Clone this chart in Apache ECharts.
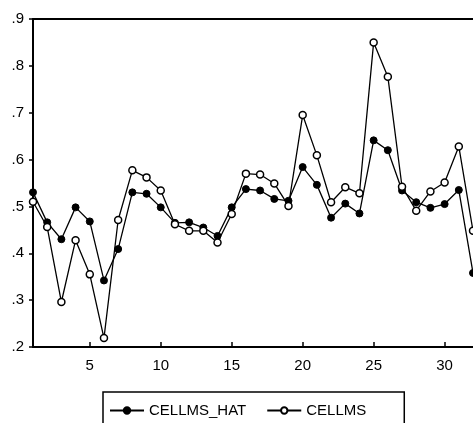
<!DOCTYPE html>
<html>
<head>
<meta charset="utf-8">
<script src="https://cdn.jsdelivr.net/npm/echarts@6/dist/echarts.min.js"></script>
<style>
html,body{margin:0;padding:0;background:#fff;}
#c{width:473px;height:423px;}
</style>
</head>
<body>
<div id="c"></div>
<script>
var obs = [1,2,3,4,5,6,7,8,9,10,11,12,13,14,15,16,17,18,19,20,21,22,23,24,25,26,27,28,29,30,31,32];
var cellmsHat = [0.530,0.466,0.430,0.498,0.468,0.342,0.409,0.530,0.527,0.498,0.465,0.466,0.455,0.437,0.498,0.537,0.534,0.516,0.512,0.584,0.546,0.476,0.506,0.485,0.641,0.620,0.534,0.509,0.497,0.505,0.535,0.358];
var cellms = [0.510,0.456,0.296,0.428,0.355,0.219,0.471,0.577,0.562,0.534,0.462,0.448,0.448,0.423,0.484,0.570,0.568,0.549,0.501,0.695,0.609,0.509,0.541,0.528,0.850,0.777,0.542,0.491,0.532,0.551,0.628,0.448];
var xTicks = [5,10,15,20,25,30];
var yTicks = [0.2,0.3,0.4,0.5,0.6,0.7,0.8,0.9];

function pairs(v){ return v.map(function(y,i){ return [obs[i], y]; }); }

var chart = echarts.init(document.getElementById('c'), null, {renderer:'canvas'});
var font = 'Liberation Sans, Arial, sans-serif';
chart.setOption({
  animation:false,
  backgroundColor:'#fff',
  textStyle:{fontFamily:font, color:'#000'},
  grid:{left:33, top:19, right:0, bottom:76, containLabel:false},
  xAxis:[{
    type:'value', min:1, max:32, interval:1,
    axisLine:{show:true, onZero:false, lineStyle:{color:'#000', width:2}},
    axisTick:{show:true, inside:true, length:5, lineStyle:{color:'#000', width:1.5},
      customValues: xTicks},
    axisLabel:{show:true, margin:11, fontSize:15, color:'#000', fontFamily:font,
      customValues: xTicks},
    splitLine:{show:false}
  },{
    type:'value', position:'top', min:1, max:32,
    axisLine:{show:true, onZero:false, lineStyle:{color:'#000', width:2}},
    axisTick:{show:false}, axisLabel:{show:false}, splitLine:{show:false}
  }],
  yAxis:{
    type:'value', min:0.2, max:0.9, interval:0.1,
    axisLine:{show:true, onZero:false, lineStyle:{color:'#000', width:2}},
    axisTick:{show:true, inside:false, length:4, lineStyle:{color:'#000', width:1.5}},
    axisLabel:{margin:9, fontSize:15, color:'#000', fontFamily:font,
      formatter:function(v){ return v.toFixed(1).replace(/^0/,''); }},
    splitLine:{show:false}
  },
  legend:{
    left:103, top:392,
    padding:[11, 38, 20, 6],
    borderColor:'#000', borderWidth:1.5,
    itemWidth:34, itemHeight:8, itemGap:20,
    textStyle:{fontSize:15, color:'#000', fontFamily:font},
    data:['CELLMS_HAT','CELLMS']
  },
  series:[{
    name:'CELLMS_HAT', type:'line', data:pairs(cellmsHat),
    symbol:'circle', symbolSize:7, showSymbol:true,
    lineStyle:{color:'#000', width:1.3},
    itemStyle:{color:'#000', borderColor:'#000', borderWidth:1}
  },{
    name:'CELLMS', type:'line', data:pairs(cellms),
    symbol:'circle', symbolSize:7, showSymbol:true,
    lineStyle:{color:'#000', width:1.3},
    itemStyle:{color:'#fff', borderColor:'#000', borderWidth:1.5}
  }]
});
</script>
</body>
</html>
